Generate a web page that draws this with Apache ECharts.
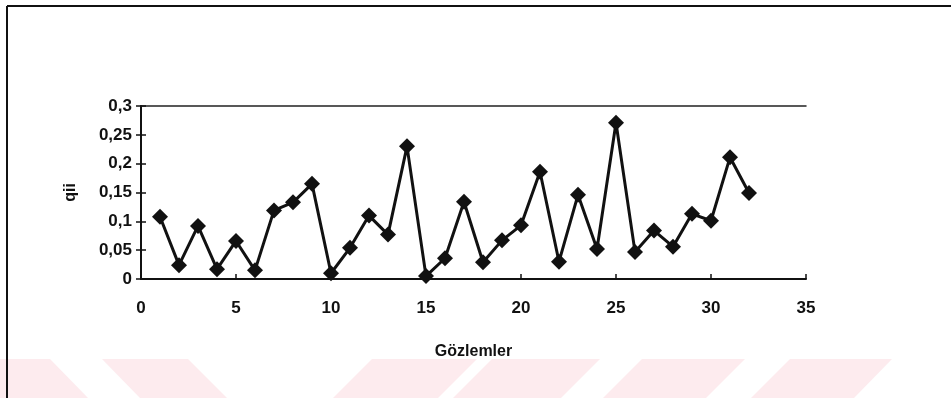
<!DOCTYPE html>
<html>
<head>
<meta charset="utf-8">
<script src="https://cdn.jsdelivr.net/npm/echarts@6/dist/echarts.min.js"></script>
<style>
html,body{margin:0;padding:0;background:#fff;}
#c{width:951px;height:398px;}
</style>
</head>
<body>
<div id="c"></div>
<script>
var xValues = [1,2,3,4,5,6,7,8,9,10,11,12,13,14,15,16,17,18,19,20,21,22,23,24,25,26,27,28,29,30,31,32];
var qiiValues = [0.108,0.024,0.092,0.017,0.066,0.015,0.119,0.133,0.165,0.010,0.054,0.110,0.077,0.230,0.005,0.036,
                 0.134,0.029,0.067,0.093,0.186,0.030,0.146,0.052,0.271,0.047,0.084,0.056,0.113,0.101,0.211,0.149];
var xTicks = [0,5,10,15,20,25,30,35];
var yTicks = [0,0.05,0.1,0.15,0.2,0.25,0.3];
var xTitle = 'Gözlemler';
var yTitle = 'qii';

var font = 'Liberation Sans, Arial, sans-serif';
function fmtY(v){ return String(Math.round(v*100)/100).replace('.', ','); }

var chart = echarts.init(document.getElementById('c'), null, {renderer:'canvas'});
var pink = '#fdebee';
function para(pts){ return {type:'polygon', silent:true, z:-10, shape:{points:pts}, style:{fill:pink}}; }

chart.setOption({
  animation:false,
  backgroundColor:'#ffffff',
  grid:{left:141, right:145, top:106, bottom:119, containLabel:false},
  graphic:[
    para([[0,359],[50,359],[88,398],[0,398]]),
    para([[102,359],[188,359],[227,398],[140,398]]),
    para([[372,359],[477,359],[438,398],[333,398]]),
    para([[492,359],[600,359],[561,398],[453,398]]),
    para([[642,359],[745,359],[706,398],[603,398]]),
    para([[790,359],[892,359],[854,398],[751,398]]),
    {type:'line', silent:true, shape:{x1:7,y1:6,x2:951,y2:6}, style:{stroke:'#111',lineWidth:2}},
    {type:'line', silent:true, shape:{x1:7,y1:6,x2:7,y2:398}, style:{stroke:'#111',lineWidth:2}}
  ],
  xAxis:[{
    type:'value', min:xTicks[0], max:xTicks[xTicks.length-1], interval:5,
    position:'bottom',
    name:xTitle, nameLocation:'middle', nameGap:65,
    nameTextStyle:{fontFamily:font, fontWeight:'bold', fontSize:16, color:'#111'},
    axisLine:{show:true, onZero:false, lineStyle:{color:'#111', width:2}},
    axisTick:{show:true, inside:true, length:5, lineStyle:{color:'#111', width:1.5}},
    axisLabel:{margin:21, fontFamily:font, fontWeight:'bold', fontSize:17, color:'#111'},
    splitLine:{show:false}
  },{
    type:'value', min:xTicks[0], max:xTicks[xTicks.length-1], interval:5,
    position:'top',
    axisLine:{show:true, onZero:false, lineStyle:{color:'#222', width:1.5}},
    axisTick:{show:false}, axisLabel:{show:false}, splitLine:{show:false}
  }],
  yAxis:[{
    type:'value', min:yTicks[0], max:yTicks[yTicks.length-1], interval:0.05,
    name:yTitle, nameLocation:'middle', nameGap:62, nameRotate:90,
    nameTextStyle:{fontFamily:font, fontWeight:'bold', fontSize:16, color:'#111'},
    axisLine:{show:true, onZero:false, lineStyle:{color:'#111', width:2}},
    axisTick:{show:true, inside:false, length:5, lineStyle:{color:'#111', width:1.5}},
    axisLabel:{margin:9, formatter:fmtY, fontFamily:font, fontWeight:'bold', fontSize:17, color:'#111'},
    splitLine:{show:false}
  },{
    type:'value', min:yTicks[0], max:yTicks[yTicks.length-1], interval:0.05,
    position:'left',
    axisLine:{show:false},
    axisTick:{show:true, inside:true, length:5, lineStyle:{color:'#111', width:1.5}},
    axisLabel:{show:false}, splitLine:{show:false}
  }],
  series:[{
    type:'line',
    xAxisIndex:0, yAxisIndex:0,
    data:xValues.map(function(x,i){return [x, qiiValues[i]];}),
    symbol:'diamond', symbolSize:16,
    lineStyle:{color:'#111', width:3},
    itemStyle:{color:'#111'},
    clip:false
  }]
});
</script>
</body>
</html>
